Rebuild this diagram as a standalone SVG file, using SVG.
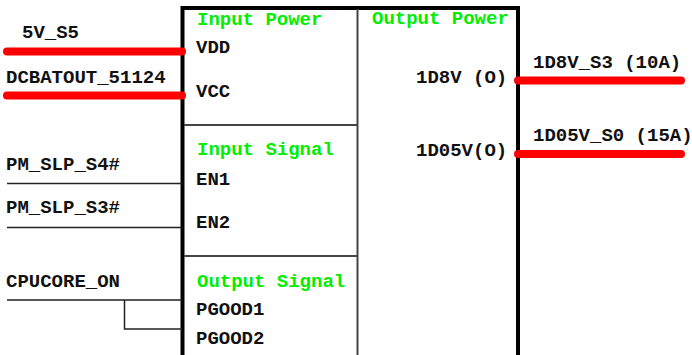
<svg xmlns="http://www.w3.org/2000/svg" width="692" height="355" viewBox="0 0 692 355">
<style>
text{font-family:"Liberation Mono","Courier New",monospace;font-weight:bold;font-size:19px;fill:#111}
.g{fill:#00ee00}
.pwr{stroke:#ff0000;stroke-width:8;stroke-linecap:round;fill:none}
.sig{stroke:#222;stroke-width:1.5;fill:none}
.div{stroke:#444;stroke-width:2;fill:none}
.frame{stroke:#000;stroke-width:4;fill:none}
</style>
<rect width="692" height="355" fill="#fff"/>
<g id="chip">
<path class="frame" d="M182.5 357 V8 H518 V357"/>
<path class="div" d="M357.5 9 V357 M184 125 H357.5 M184 256 H357.5"/>
<text class="g" x="197" y="25">Input Power</text>
<text class="g" x="372" y="24">Output Power</text>
<text class="g" x="197" y="155">Input Signal</text>
<text class="g" x="197" y="287">Output Signal</text>
<text x="196" y="53">VDD</text>
<text x="196" y="97">VCC</text>
<text x="196" y="185">EN1</text>
<text x="196" y="228">EN2</text>
<text x="196" y="315">PGOOD1</text>
<text x="196" y="344">PGOOD2</text>
<text x="416" y="83">1D8V (O)</text>
<text x="416" y="156">1D05V(O)</text>
</g>
<g id="connectors">
<path class="pwr" d="M7 51.5 H182"/>
<path class="pwr" d="M7 95.5 H182"/>
<path class="pwr" d="M518 80.5 H681"/>
<path class="pwr" d="M518 154 H681"/>
<path class="sig" d="M7 183.5 H182"/>
<path class="sig" d="M7 227.5 H182"/>
<path class="sig" d="M7 300 H182 M124.5 300 V329 H182"/>
</g>
<g id="labels">
<text x="22" y="38">5V_S5</text>
<text x="6" y="83">DCBATOUT_51124</text>
<text x="533" y="68">1D8V_S3 (10A)</text>
<text x="533" y="141">1D05V_S0 (15A)</text>
<text x="6" y="170">PM_SLP_S4#</text>
<text x="6" y="213">PM_SLP_S3#</text>
<text x="6" y="287">CPUCORE_ON</text>
</g>
</svg>
